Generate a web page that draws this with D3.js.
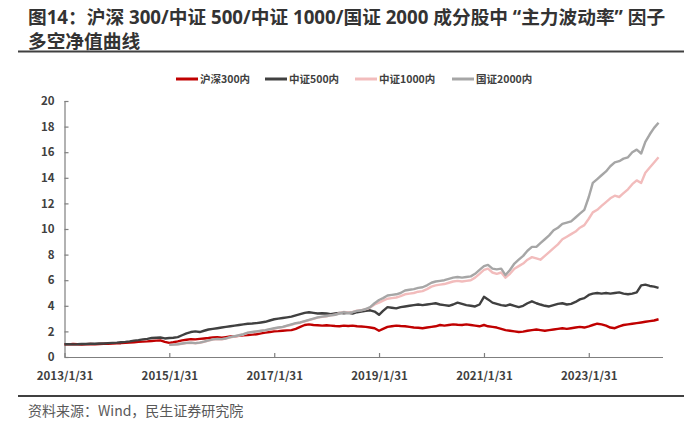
<!DOCTYPE html>
<html><head><meta charset="utf-8">
<script src="https://cdn.jsdelivr.net/npm/d3@7"></script>
<style>
body{margin:0;background:#fff;}
svg{display:block;font-family:"Noto Sans CJK SC","Noto Sans",sans-serif;}
</style></head>
<body><svg id="c" width="700" height="425"></svg>
<script>
const seriesNames = ["沪深300内","中证500内","中证1000内","国证2000内"];
const seriesColors = ["#c00000","#404040","#f2bcbc","#a6a6a6"];
const seriesStart = ["2013-01-31","2013-01-31","2015-01-31","2015-01-31"];
const xTickLabels = ["2013/1/31","2015/1/31","2017/1/31","2019/1/31","2021/1/31","2023/1/31"];
const yTicks = [0,2,4,6,8,10,12,14,16,18,20];

const hs300 = [
1.00,0.99,1.01,1.00,0.98,1.00,1.01,1.00,1.02,1.03,1.04,1.05,
1.07,1.08,1.10,1.12,1.15,1.18,1.20,1.22,1.25,1.28,1.30,1.18,
1.10,1.15,1.22,1.30,1.35,1.40,1.38,1.42,1.45,1.48,1.52,1.55,
1.50,1.55,1.60,1.62,1.65,1.70,1.72,1.75,1.78,1.85,1.90,1.95,
2.00,2.02,2.05,2.08,2.10,2.20,2.35,2.50,2.55,2.50,2.48,2.45,
2.48,2.45,2.42,2.40,2.45,2.42,2.45,2.40,2.38,2.35,2.30,2.25,
2.05,2.20,2.35,2.40,2.45,2.42,2.40,2.35,2.30,2.28,2.25,2.30,
2.35,2.40,2.50,2.45,2.50,2.55,2.52,2.50,2.55,2.50,2.45,2.40,
2.50,2.40,2.35,2.30,2.20,2.10,2.05,2.00,1.95,1.98,2.05,2.10,
2.15,2.10,2.05,2.10,2.15,2.20,2.25,2.20,2.25,2.30,2.35,2.30,
2.40,2.50,2.60,2.55,2.45,2.30,2.25,2.40,2.50,2.55,2.60,2.65,
2.70,2.75,2.80,2.85,2.95];
const zz500 = [
1.00,1.00,0.99,1.00,1.02,1.01,1.03,1.04,1.05,1.06,1.08,1.10,
1.12,1.15,1.18,1.22,1.28,1.32,1.38,1.42,1.48,1.50,1.52,1.45,
1.48,1.50,1.55,1.70,1.85,1.95,2.00,1.95,2.05,2.15,2.20,2.25,
2.30,2.35,2.40,2.45,2.50,2.55,2.60,2.62,2.65,2.70,2.75,2.85,
2.95,3.00,3.05,3.10,3.15,3.25,3.35,3.45,3.50,3.45,3.40,3.42,
3.40,3.35,3.40,3.45,3.42,3.45,3.40,3.50,3.55,3.60,3.65,3.55,
3.30,3.60,3.90,3.85,3.80,3.90,3.95,4.00,4.05,4.10,4.05,4.10,
4.15,4.20,4.10,4.05,4.00,4.10,4.25,4.15,4.05,4.00,3.95,4.10,
4.70,4.50,4.25,4.15,4.05,4.00,4.10,4.00,3.90,4.00,4.20,4.35,
4.20,4.10,4.00,3.95,4.05,4.15,4.20,4.10,4.15,4.30,4.50,4.60,
4.85,4.95,5.00,4.95,5.00,4.95,5.00,5.05,4.95,4.90,4.95,5.05,
5.60,5.65,5.55,5.50,5.40];
const zz1000 = [
0.95,0.97,1.00,1.04,1.09,1.11,1.07,1.11,1.19,1.28,1.36,1.40,
1.38,1.44,1.53,1.60,1.68,1.76,1.88,1.93,1.98,2.03,2.08,2.15,
2.22,2.28,2.33,2.43,2.52,2.62,2.68,2.78,2.88,2.98,3.08,3.13,
3.18,3.25,3.30,3.42,3.52,3.48,3.52,3.62,3.66,3.74,3.86,4.10,
4.25,4.40,4.55,4.60,4.65,4.75,4.90,4.95,5.00,5.10,5.15,5.30,
5.50,5.60,5.65,5.70,5.80,5.90,5.95,5.90,5.95,6.00,6.20,6.50,
6.80,6.90,6.60,6.50,6.60,6.20,6.50,6.90,7.10,7.30,7.60,7.80,
7.70,7.60,7.90,8.20,8.50,8.80,9.20,9.40,9.60,9.80,10.10,10.30,
10.80,11.30,11.50,11.80,12.10,12.40,12.60,12.50,12.80,13.10,13.50,13.80,
13.60,14.40,14.80,15.20,15.60];
const gz2000 = [
0.95,0.97,1.00,1.05,1.10,1.12,1.08,1.12,1.20,1.30,1.38,1.42,
1.40,1.45,1.55,1.62,1.70,1.78,1.90,1.95,2.00,2.05,2.10,2.18,
2.25,2.30,2.35,2.45,2.55,2.65,2.70,2.80,2.90,3.00,3.10,3.15,
3.20,3.25,3.30,3.40,3.50,3.45,3.50,3.60,3.65,3.75,3.90,4.20,
4.45,4.60,4.80,4.85,4.90,5.00,5.20,5.25,5.30,5.40,5.45,5.60,
5.80,5.90,5.95,6.00,6.10,6.20,6.25,6.20,6.25,6.30,6.50,6.80,
7.10,7.20,6.90,6.85,6.90,6.40,6.80,7.30,7.60,7.90,8.30,8.60,
8.60,8.90,9.20,9.50,9.90,10.10,10.40,10.50,10.60,10.90,11.20,11.50,
12.50,13.60,13.90,14.20,14.50,14.90,15.20,15.30,15.50,15.60,16.00,16.20,
15.90,16.80,17.40,17.90,18.30];
const seriesValues = [hs300, zz500, zz1000, gz2000];

const svg = d3.select("#c");
const parse = d3.timeParse("%Y-%m-%d");
const fmt = d3.timeFormat("%Y/%-m/%-d");

// title
const title = svg.append("g").attr("font-weight","bold").attr("fill","#333")
  .attr("font-size",18.7).attr("font-family","'Open Sans','Noto Sans CJK SC',sans-serif")
  .attr("xml:space","preserve").style("white-space","pre");
title.append("text").attr("x",28).attr("y",24).text("图14：沪深 300/中证 500/中证 1000/国证 2000 成分股中 “主力波动率” 因子");
title.append("text").attr("x",28).attr("y",47.5).text("多空净值曲线");
svg.append("line").attr("x1",18).attr("x2",684).attr("y1",51.5).attr("y2",51.5).attr("stroke","#404040").attr("stroke-width",2);

const x = d3.scaleTime().domain([parse("2013-01-31"), parse("2024-07-01")]).range([64.5, 663]);
const y = d3.scaleLinear().domain([0,20]).range([357,101]);

function monthEnds(start, n){
  const s = parse(start);
  return d3.range(n).map(i => new Date(s.getFullYear(), s.getMonth()+i+1, 0));
}

// axes
const gy = svg.append("g").attr("transform","translate(64.5,0)")
  .call(d3.axisLeft(y).tickValues(yTicks).tickSize(-4).tickPadding(10).tickFormat(d3.format("d")));
const gx = svg.append("g").attr("transform","translate(0,357)")
  .call(d3.axisBottom(x).tickValues(xTickLabels.map(t=>d3.timeParse("%Y/%m/%d")(t))).tickSize(-4).tickPadding(10).tickFormat(fmt));
[gx,gy].forEach(g=>{
  g.selectAll("path,line").attr("stroke","#7f7f7f").attr("stroke-width",1.2);
  g.selectAll("text").attr("fill","#404040").attr("font-size",11.5).attr("font-weight",600).attr("font-family","'Noto Sans CJK SC',sans-serif");
});
gx.select(".domain").attr("d","M64.5,0.5H663");
gy.select(".domain").attr("d","M0.5,101V357");
gx.selectAll(".tick text").attr("dy","1.1em");

// lines
const line = d3.line().x(d=>x(d[0])).y(d=>y(d[1])).curve(d3.curveLinear);
seriesValues.forEach((vals,i)=>{
  const dates = monthEnds(seriesStart[i], vals.length);
  const pts = vals.map((v,j)=>[dates[j], v]);
  svg.append("path").datum(pts).attr("d",line).attr("fill","none")
    .attr("stroke",seriesColors[i]).attr("stroke-width",2.4).attr("stroke-linejoin","round");
});

// legend
const legX = [176,265,355,452];
const lg = svg.append("g").attr("font-size",10.5).attr("font-weight",600).attr("fill","#404040");
seriesNames.forEach((n,i)=>{
  lg.append("line").attr("x1",legX[i]).attr("x2",legX[i]+22).attr("y1",79).attr("y2",79)
    .attr("stroke",seriesColors[i]).attr("stroke-width",3);
  lg.append("text").attr("x",legX[i]+24).attr("y",79).attr("dy","0.35em").text(n);
});

// source
svg.append("line").attr("x1",18).attr("x2",684).attr("y1",396).attr("y2",396).attr("stroke","#404040").attr("stroke-width",2);
svg.append("text").attr("x",28).attr("y",416).attr("font-size",14).attr("fill","#595959").text("资料来源：Wind，民生证券研究院");
</script></body></html>
